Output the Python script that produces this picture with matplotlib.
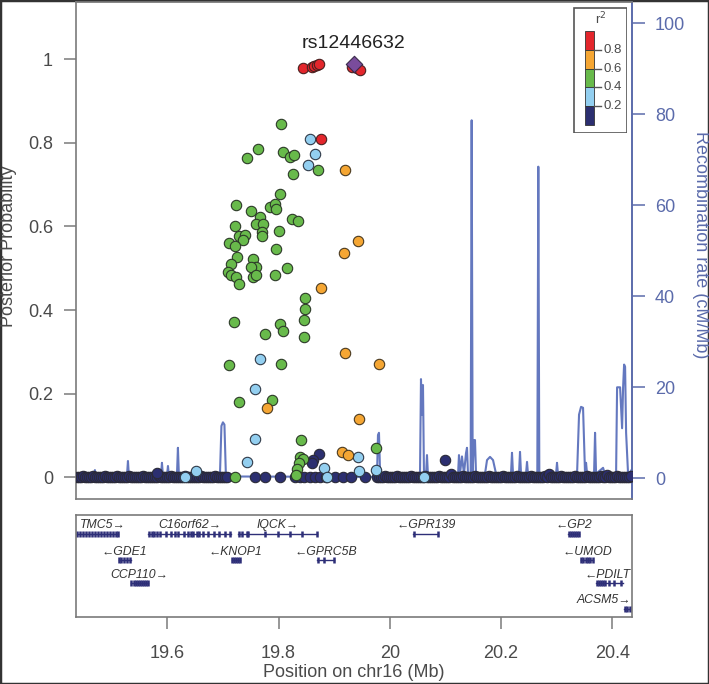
import matplotlib
matplotlib.use("Agg")
import matplotlib.pyplot as plt
from matplotlib.patches import Rectangle

plt.rcParams['font.family'] = ['Liberation Sans', 'DejaVu Sans']

# ---------------- data ----------------
lead_name = "rs12446632"
lead_pos = [19.9362]
lead_pp = [0.988]

red_pos = [19.8445, 19.8596, 19.8643, 19.8686, 19.8733, 19.9315, 19.9405, 19.9464, 19.8769]
red_pp = [0.980, 0.982, 0.984, 0.986, 0.988, 0.982, 0.978, 0.974, 0.809]

orange_pos = [19.9195, 19.9428, 19.9171, 19.8769, 19.9200, 19.9800, 19.7787, 19.9441, 19.9146, 19.9243]
orange_pp = [0.734, 0.565, 0.537, 0.452, 0.297, 0.271, 0.1666, 0.1387, 0.0605, 0.0526]

green_pos = [19.8044, 19.7631, 19.7438, 19.8085, 19.8206, 19.8272, 19.8709, 19.8254, 19.8026, 19.7230,
             19.7505, 19.7846, 19.7936, 19.7949, 19.7667, 19.7595, 19.7726, 19.7212, 19.8242, 19.8350,
             19.7697, 19.7697, 19.8008, 19.7294, 19.7397, 19.7366, 19.7115, 19.7217, 19.7960, 19.7258,
             19.7535, 19.7595, 19.7499, 19.7145, 19.7086, 19.7140, 19.7230, 19.7289, 19.7535, 19.7595,
             19.7931, 19.8147, 19.8476, 19.8481, 19.7199, 19.8021, 19.8085, 19.8458, 19.7762, 19.8458,
             19.7115, 19.8039, 19.7284, 19.7882, 19.8404, 19.9746, 19.8386, 19.8445, 19.8362, 19.8326,
             19.8314, 19.7217]
green_pp = [0.845, 0.785, 0.764, 0.778, 0.767, 0.771, 0.734, 0.726, 0.678, 0.652,
            0.637, 0.647, 0.654, 0.642, 0.623, 0.606, 0.606, 0.601, 0.618, 0.614,
            0.586, 0.577, 0.589, 0.577, 0.580, 0.568, 0.561, 0.554, 0.547, 0.528,
            0.522, 0.502, 0.502, 0.510, 0.491, 0.484, 0.480, 0.462, 0.480, 0.483,
            0.483, 0.501, 0.430, 0.402, 0.372, 0.367, 0.351, 0.376, 0.344, 0.335,
            0.269, 0.270, 0.181, 0.184, 0.0892, 0.0694, 0.0493, 0.0438, 0.0335, 0.0199,
            0.0055, 0.0]

lblue_pos = [19.8565, 19.8650, 19.8535, 19.7672, 19.7577, 19.7571, 19.7438, 19.9423, 19.8817, 19.9452,
             19.9746, 19.6516, 19.6313, 19.8866, 20.0620]
lblue_pp = [0.809, 0.773, 0.746, 0.282, 0.2105, 0.0909, 0.0359, 0.0493, 0.023, 0.0158,
            0.0175, 0.0158, 0.0014, 0.0014, 0.0]

# dark-blue SNPs (r2 < 0.2) away from the dense bands
navy_pos = [19.7577, 19.7762, 19.8026, 19.8296, 19.8386, 19.8458, 19.8565, 19.8650, 19.8745, 19.8853,
            19.9015, 19.9164, 19.9297, 19.9554, 19.8733, 19.8625, 19.8601, 20.0992, 19.5810]
navy_pp = [0.0, 0.0, 0.0, 0.0, 0.0, 0.0, 0.0, 0.0, 0.0, 0.0,
           0.0, 0.0, 0.0, 0.0, 0.0557, 0.0414, 0.0349, 0.0414, 0.011]

# dark-blue SNPs forming the dense bands at zero
band_pos = [19.4370, 19.4406, 19.4442, 19.4478, 19.4514, 19.4550, 19.4586, 19.4622, 19.4658, 19.4694,
            19.4730, 19.4766, 19.4802, 19.4838, 19.4874, 19.4910, 19.4946, 19.4982, 19.5018, 19.5054,
            19.5090, 19.5126, 19.5162, 19.5198, 19.5234, 19.5270, 19.5306, 19.5342, 19.5378, 19.5414,
            19.5450, 19.5486, 19.5522, 19.5558, 19.5594, 19.5630, 19.5666, 19.5702, 19.5738, 19.5774,
            19.5810, 19.5846, 19.5882, 19.5918, 19.5954, 19.5990, 19.6026, 19.6062, 19.6098, 19.6134,
            19.6170, 19.6206, 19.6242, 19.6278, 19.6314, 19.6350, 19.6386, 19.6422, 19.6458, 19.6494,
            19.6530, 19.6566, 19.6602, 19.6638, 19.6674, 19.6710, 19.6746, 19.6782, 19.6818, 19.6854,
            19.6890, 19.6926, 19.6962, 19.6998, 19.7034, 19.7070,
            19.9770, 19.9806, 19.9842, 19.9878, 19.9914, 19.9950, 19.9986, 20.0022, 20.0058, 20.0094,
            20.0130, 20.0166, 20.0202, 20.0238, 20.0274, 20.0310, 20.0346, 20.0382, 20.0418, 20.0454,
            20.0490, 20.0526, 20.0562, 20.0598, 20.0634, 20.0670, 20.0706, 20.0742, 20.0778, 20.0814,
            20.0850, 20.0886, 20.0922, 20.0958, 20.0994, 20.1030, 20.1066, 20.1102, 20.1138, 20.1174,
            20.1210, 20.1246, 20.1282, 20.1318, 20.1354, 20.1390, 20.1426, 20.1462, 20.1498, 20.1534,
            20.1570, 20.1606, 20.1642, 20.1678, 20.1714, 20.1750, 20.1786, 20.1822, 20.1858, 20.1894,
            20.1930, 20.1966, 20.2002, 20.2038, 20.2074, 20.2110, 20.2146, 20.2182, 20.2218, 20.2254,
            20.2290, 20.2326, 20.2362, 20.2398, 20.2434, 20.2470, 20.2506, 20.2542, 20.2578, 20.2614,
            20.2650, 20.2686, 20.2722, 20.2758, 20.2794, 20.2830, 20.2866, 20.2902, 20.2938, 20.2974,
            20.3010, 20.3046, 20.3082, 20.3118, 20.3154, 20.3190, 20.3226, 20.3262, 20.3298, 20.3334,
            20.3370, 20.3406, 20.3442, 20.3478, 20.3514, 20.3550, 20.3586, 20.3622, 20.3658, 20.3694,
            20.3730, 20.3766, 20.3802, 20.3838, 20.3874, 20.3910, 20.3946, 20.3982, 20.4018, 20.4054,
            20.4090, 20.4126, 20.4162, 20.4198, 20.4234, 20.4270, 20.4306, 20.4342]
band_pp = [0.0, 0.001, 0.0, 0.002, 0.0, 0.001, 0.0, 0.0, 0.002, 0.0,
           0.0, 0.001, 0.0, 0.0, 0.003, 0.0, 0.0, 0.001, 0.0, 0.0,
           0.002, 0.0, 0.0, 0.001, 0.0, 0.0, 0.002, 0.0, 0.0, 0.0,
           0.001, 0.0, 0.0, 0.003, 0.0, 0.0, 0.0, 0.001, 0.0, 0.0,
           0.0, 0.002, 0.0, 0.0, 0.001, 0.0, 0.0, 0.003, 0.0, 0.0,
           0.0, 0.001, 0.0, 0.0, 0.002, 0.0, 0.0, 0.0, 0.001, 0.0,
           0.0, 0.0, 0.002, 0.0, 0.0, 0.001, 0.0, 0.0, 0.0, 0.002,
           0.0, 0.0, 0.001, 0.0, 0.0, 0.0,
           0.0, 0.001, 0.0, 0.0, 0.002, 0.0, 0.0, 0.001, 0.0, 0.0,
           0.002, 0.0, 0.0, 0.001, 0.0, 0.0, 0.0, 0.002, 0.0, 0.0,
           0.001, 0.0, 0.0, 0.0, 0.002, 0.0, 0.0, 0.001, 0.0, 0.0,
           0.0, 0.002, 0.0, 0.0, 0.001, 0.0, 0.0, 0.008, 0.0, 0.0,
           0.001, 0.0, 0.0, 0.002, 0.0, 0.0, 0.001, 0.0, 0.0, 0.002,
           0.0, 0.0, 0.001, 0.0, 0.0, 0.0, 0.002, 0.0, 0.0, 0.001,
           0.0, 0.0, 0.0, 0.002, 0.0, 0.0, 0.001, 0.0, 0.0, 0.0,
           0.002, 0.0, 0.0, 0.001, 0.0, 0.0, 0.0, 0.002, 0.0, 0.0,
           0.001, 0.0, 0.0, 0.0, 0.002, 0.0, 0.008, 0.0, 0.0, 0.001,
           0.0, 0.0, 0.002, 0.0, 0.0, 0.001, 0.0, 0.0, 0.0, 0.002,
           0.0, 0.0, 0.001, 0.0, 0.0, 0.002, 0.0, 0.0, 0.001, 0.0,
           0.0, 0.0, 0.002, 0.0, 0.0, 0.006, 0.001, 0.0, 0.0, 0.0,
           0.002, 0.0, 0.0, 0.001, 0.0, 0.0, 0.0, 0.002]

rec_pos = [19.4359, 19.4682, 19.4700, 19.4718, 19.5275, 19.5294, 19.5311, 19.5887, 19.5905, 19.5923,
           19.5995, 19.6013, 19.6031, 19.6174, 19.6192, 19.6210, 19.6947, 19.6974, 19.7001, 19.7028,
           19.7055, 19.9770, 19.9788, 19.9806, 19.9824, 19.9842, 20.0543, 20.0561, 20.0579, 20.0597,
           20.0615, 20.0651, 20.0669, 20.0687, 20.1226, 20.1244, 20.1262, 20.1298, 20.1334, 20.1370,
           20.1388, 20.1406, 20.1454, 20.1472, 20.1490, 20.1514, 20.1532, 20.1550, 20.1712, 20.1748,
           20.1802, 20.1856, 20.1910, 20.2179, 20.2197, 20.2215, 20.2323, 20.2341, 20.2359, 20.2449,
           20.2467, 20.2485, 20.2652, 20.2670, 20.2688, 20.2988, 20.3006, 20.3024, 20.3366, 20.3402,
           20.3438, 20.3474, 20.3510, 20.3528, 20.3546, 20.3672, 20.3690, 20.3708, 20.3834, 20.3870,
           20.4068, 20.4086, 20.4140, 20.4176, 20.4194, 20.4212, 20.4230, 20.4248, 20.4284, 20.4356]
rec_rate = [0.4, 0.4, 1.8, 0.4, 0.4, 3.8, 0.4, 0.4, 3.4, 0.5,
            0.5, 2.7, 0.5, 0.5, 6.7, 0.5, 0.5, 11.5, 12.3, 11.8,
            0.4, 0.3, 9.5, 10.0, 2.0, 0.3, 0.3, 21.8, 14.0, 20.5,
            0.5, 0.5, 5.1, 0.5, 0.5, 5.1, 1.0, 4.8, 1.0, 5.5,
            6.7, 1.0, 1.0, 78.7, 1.5, 8.4, 8.4, 1.0, 1.0, 4.0,
            4.7, 4.0, 1.0, 1.0, 5.6, 1.0, 1.0, 5.8, 1.0, 1.0,
            3.6, 0.8, 0.8, 68.5, 0.8, 0.8, 3.4, 0.8, 0.8, 14.0,
            15.7, 15.5, 1.0, 3.4, 1.0, 1.0, 10.0, 1.0, 2.3, 0.8,
            1.0, 20.0, 20.0, 11.0, 20.0, 25.0, 24.5, 10.0, 0.8, 2.0]

gene_names = ["TMC5", "C16orf62", "IQCK", "GDE1", "KNOP1", "GPRC5B", "CCP110",
              "GPR139", "GP2", "UMOD", "PDILT", "ACSM5"]
gene_start = [19.425, 19.5658, 19.7276, 19.5132, 19.7158, 19.8697, 19.5342,
              20.0422, 20.3209, 20.3438, 20.3708, 20.4216]
gene_end = [19.5119, 19.7140, 19.8697, 19.5342, 19.7307, 19.8997, 19.5658,
            20.0872, 20.3407, 20.3659, 20.4188, 20.4500]
gene_strand = ["+", "+", "+", "-", "-", "-", "+", "-", "-", "-", "-", "+"]
gene_row = [0, 0, 0, 1, 1, 1, 2, 0, 0, 1, 2, 3]
gene_exons = [
    [19.4377, 19.4431, 19.4485, 19.4539, 19.4593, 19.4646, 19.4700, 19.4754, 19.4808, 19.4862,
     19.4916, 19.4970, 19.5024, 19.5078, 19.5114],
    [19.5676, 19.5720, 19.5761, 19.5809, 19.5869, 19.5977, 19.6061, 19.6138, 19.6198, 19.6300,
     19.6378, 19.6420, 19.6467, 19.6528, 19.6575, 19.6636, 19.6737, 19.6840, 19.6935, 19.7037, 19.7127],
    [19.7294, 19.7338, 19.7427, 19.7456, 19.7756, 19.7996, 19.8206, 19.8416, 19.8686],
    [19.5141, 19.5177, 19.5222, 19.5276, 19.5330],
    [19.7163, 19.7199, 19.7235, 19.7271, 19.7307],
    [19.8709, 19.8817, 19.8997],
    [19.5347, 19.5400, 19.5436, 19.5472, 19.5508, 19.5544, 19.5580, 19.5616, 19.5653],
    [20.0435, 20.0867],
    [20.3222, 20.3258, 20.3294, 20.3330, 20.3366, 20.3402],
    [20.3446, 20.3482, 20.3528, 20.3564, 20.3600, 20.3645],
    [20.3725, 20.3761, 20.3797, 20.3833, 20.3869, 20.3941, 20.4031, 20.4157],
    [20.4228, 20.4264, 20.4318, 20.4360],
]

pp_ticks = [0, 0.2, 0.4, 0.6, 0.8, 1.0]
pp_ticklabels = ["0", "0.2", "0.4", "0.6", "0.8", "1"]
rec_ticks = [0, 20, 40, 60, 80, 100]
x_ticks = [19.6, 19.8, 20.0, 20.2, 20.4]
x_ticklabels = ["19.6", "19.8", "20", "20.2", "20.4"]
legend_labels = ["0.8", "0.6", "0.4", "0.2"]

# ---------------- styles ----------------
NAVY = '#2c2f70'
LBLUE = '#93cff0'
GREEN = '#68ba4b'
ORANGE = '#f5a633'
RED = '#e3262c'
PURPLE = '#7a4c9c'
REC = '#6478bf'
RECAX = '#5b6bab'
GREYTXT = '#4a4a4a'
SPINE = '#7a7a7a'
GENE = '#2e2f78'

W, H = 709, 684
fig = plt.figure(figsize=(W / 100, H / 100), dpi=100)
fig.patch.set_facecolor('white')


def add_px_axes(l, t, r, b):
    return fig.add_axes([l / W, 1 - b / H, (r - l) / W, (b - t) / H])


XMIN, XMAX = 19.436, 20.4354

ax = add_px_axes(76, 2, 632, 499.3)
axr = ax.twinx()
ax.set_zorder(axr.get_zorder() + 1)
ax.patch.set_visible(False)
ax.set_xlim(XMIN, XMAX)
ax.set_ylim(-0.0526, 1.137)
axr.set_ylim(-4.62, 104.7)

axr.plot(rec_pos, rec_rate, color=REC, lw=1.5, zorder=1, solid_joinstyle='round')

MS = 56
ax.scatter(band_pos, band_pp, s=MS, c=NAVY, edgecolors='#2a2a38', linewidths=0.8, zorder=3)
ax.scatter(navy_pos, navy_pp, s=MS, c=NAVY, edgecolors='#2a2a38', linewidths=0.8, zorder=3)
ax.scatter(lblue_pos, lblue_pp, s=MS, c=LBLUE, edgecolors='#2f3a48', linewidths=0.8, zorder=4)
ax.scatter(green_pos, green_pp, s=MS, c=GREEN, edgecolors='#2c3a28', linewidths=0.8, zorder=5)
ax.scatter(orange_pos, orange_pp, s=MS, c=ORANGE, edgecolors='#4a3a20', linewidths=0.8, zorder=6)
ax.scatter(red_pos, red_pp, s=MS, c=RED, edgecolors='#4a2020', linewidths=0.8, zorder=7)
ax.scatter(lead_pos, lead_pp, s=70, c=PURPLE, marker='D', edgecolors='#3a2a4a', linewidths=0.8, zorder=8)
ax.text(lead_pos[0] - 0.001, 1.037, lead_name, ha='center', va='center', fontsize=14, color='#222222')

ax.set_xticks([])
ax.set_yticks(pp_ticks)
ax.set_yticklabels(pp_ticklabels)
ax.tick_params(axis='y', direction='out', length=8.6, width=1.1, color=SPINE,
               labelcolor=GREYTXT, labelsize=13, pad=8)
axr.set_yticks(rec_ticks)
axr.tick_params(axis='y', direction='out', length=9.4, width=1.1, color=RECAX,
                labelcolor=RECAX, labelsize=13, pad=7)
for s in ['left', 'bottom', 'top']:
    ax.spines[s].set_color(SPINE)
    ax.spines[s].set_linewidth(1.2)
ax.spines['right'].set_color(RECAX)
ax.spines['right'].set_linewidth(1.2)
for s in ['left', 'bottom', 'top']:
    axr.spines[s].set_visible(False)
axr.spines['right'].set_color(RECAX)
axr.spines['right'].set_linewidth(1.2)

fig.text(9 / W, 1 - 246 / H, "Posterior Probability", rotation=90, ha='center', va='center',
         fontsize=13, color=GREYTXT)
fig.text(701 / W, 1 - 245 / H, "Recombination rate (cM/Mb)", rotation=270, ha='center',
         va='center', fontsize=13, color=RECAX)

# ---------------- legend ----------------
leg = add_px_axes(573, 7, 627, 133)
leg.set_xlim(573, 627)
leg.set_ylim(133, 7)
leg.axis('off')
leg.add_patch(Rectangle((573.5, 7.5), 53, 125, fill=False, edgecolor='#555555', lw=1.2))
leg.text(601, 19, "r$^2$", ha='center', va='center', fontsize=9.5, color=GREYTXT)
leg_colors = [RED, ORANGE, GREEN, LBLUE, NAVY]
top = 30.7
bh = 18.9
for i, c in enumerate(leg_colors):
    leg.add_patch(Rectangle((585, top + i * bh), 9, bh, facecolor=c, edgecolor='#333333', lw=0.6))
for i, lab in enumerate(legend_labels):
    yy = top + (i + 1) * bh
    leg.plot([594, 601], [yy, yy], color='#555555', lw=1)
    leg.text(604, yy, lab, ha='left', va='center', fontsize=9.5, color=GREYTXT)

# ---------------- gene panel ----------------
g = add_px_axes(76, 515, 632, 617.3)
g.set_xlim(XMIN, XMAX)
g.set_ylim(102.3, 0)
g.set_yticks([])
g.set_xticks(x_ticks)
g.set_xticklabels(x_ticklabels)
g.tick_params(axis='x', direction='out', length=8.6, width=1.1, color=SPINE,
              labelcolor=GREYTXT, labelsize=13, pad=11)
g.set_xlabel("Position on chr16 (Mb)", fontsize=13, color=GREYTXT, labelpad=2)
for s in g.spines.values():
    s.set_color(SPINE)
    s.set_linewidth(1.2)

row_bar = [19, 44.5, 67.5, 94]
row_lab = [10, 37, 60, 85]
labels = []
for name, st, en, strand, row, ex in zip(gene_names, gene_start, gene_end, gene_strand,
                                         gene_row, gene_exons):
    yb = row_bar[row]
    g.plot([st, en], [yb, yb], color=GENE, lw=1.0, clip_on=True)
    g.vlines(ex, yb - 3, yb + 3, color=GENE, lw=1.8, clip_on=True)
    txt = name + "\u2192" if strand == '+' else "\u2190" + name
    mid = (max(st, XMIN) + min(en, XMAX)) / 2
    t = g.text(mid, row_lab[row], txt, ha='center', va='center', fontsize=8.8, style='italic',
               color='#333333')
    labels.append(t)

fig.canvas.draw()
r = fig.canvas.get_renderer()
gb = g.get_window_extent(r)
for t in labels:
    bb = t.get_window_extent(r)
    shift = 0
    if bb.x1 > gb.x1 - 1:
        shift = (gb.x1 - 1) - bb.x1
    elif bb.x0 < gb.x0 + 4:
        shift = (gb.x0 + 4) - bb.x0
    if shift:
        x_disp, y_disp = g.transData.transform((t.get_position()[0], t.get_position()[1]))
        newx = g.transData.inverted().transform((x_disp + shift, y_disp))[0]
        t.set_x(newx)

fig.add_artist(Rectangle((0, 0), 1, 1, transform=fig.transFigure, fill=False,
                         edgecolor='#333333', lw=2.5))

fig.savefig('out.png', dpi=100)
